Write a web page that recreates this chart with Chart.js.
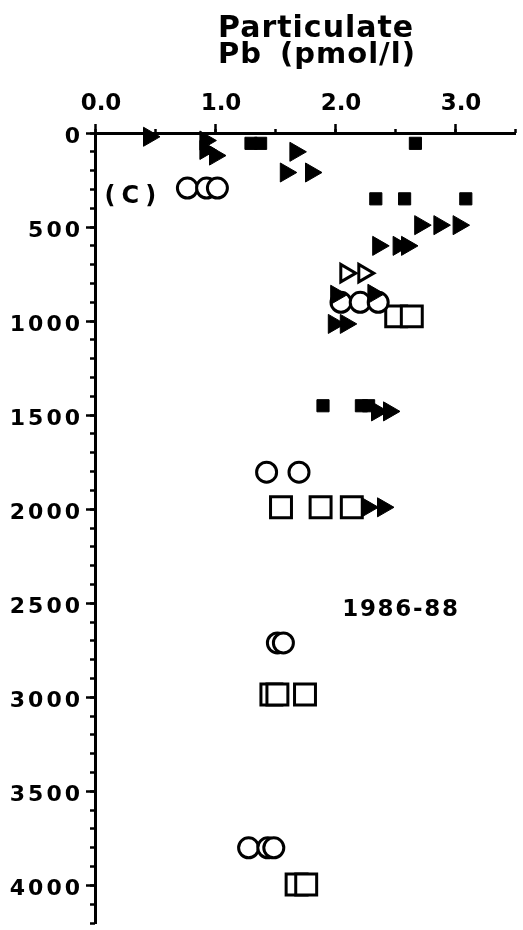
<!DOCTYPE html>
<html>
<head>
<meta charset="utf-8">
<script src="https://cdn.jsdelivr.net/npm/chart.js@4.4.0/dist/chart.umd.min.js"></script>
<style>
  html, body { margin: 0; padding: 0; background: #fff; }
</style>
</head>
<body>
<canvas id="pbChart" width="523" height="930"></canvas>
<script>
// particulate Pb (pmol/l) against depth (m), 1986-88 profiles

// axis ticks
const pbTicks = [0, 1, 2, 3];
const depthTicks = [0, 500, 1000, 1500, 2000, 2500, 3000, 3500, 4000];

// filled triangles
const triPb    = [0.45, 0.92, 0.92, 1.00, 1.67, 1.59, 1.80, 2.71, 2.87, 3.03, 2.36, 2.53, 2.60, 2.01, 2.32, 1.99, 2.09, 2.35, 2.45, 2.27, 2.40];
const triDepth = [20, 40, 90, 120, 100, 210, 210, 490, 490, 490, 600, 600, 600, 860, 855, 1015, 1015, 1480, 1480, 1990, 1990];

// filled squares
const sqPb    = [1.30, 1.38, 2.67, 2.34, 2.58, 3.09, 1.90, 2.22, 2.28];
const sqDepth = [55, 55, 55, 350, 350, 350, 1450, 1450, 1450];

// open circles
const circPb    = [0.77, 0.93, 1.02, 2.05, 2.21, 2.36, 1.43, 1.70, 1.52, 1.57, 1.28, 1.44, 1.49];
const circDepth = [293, 293, 293, 900, 900, 900, 1803, 1803, 2711, 2711, 3800, 3800, 3800];

// open squares
const boxPb    = [2.51, 2.64, 1.55, 1.88, 2.14, 1.47, 1.52, 1.75, 1.68, 1.76];
const boxDepth = [975, 975, 1990, 1990, 1990, 2985, 2985, 2985, 3995, 3995];

// open triangles
const openTriPb    = [2.09, 2.24];
const openTriDepth = [745, 745];

function toPoints(xs, ys) {
    return xs.map((v, i) => ({ x: v, y: ys[i] }));
}

const boldFont = '"DejaVu Sans", Verdana, sans-serif';

// letter spacing for tick labels, per axis
const labelSpacing = { x: '0px', y: '3px' };

const spacedLabels = {
    id: 'spacedLabels',
    afterUpdate(chart) {
        for (const id in labelSpacing) {
            const scale = chart.scales[id];
            if (!scale || scale._spaced) continue;
            const draw = scale.drawLabels;
            scale.drawLabels = function (area) {
                const ctx = this.ctx;
                ctx.save();
                ctx.letterSpacing = labelSpacing[id];
                draw.call(this, area);
                ctx.restore();
            };
            scale._spaced = true;
        }
    }
};

// fixed box sizes, no extra room for overhanging labels
function fixBox(w, h) {
    return s => {
        if (w !== null) s.width = w;
        if (h !== null) s.height = h;
        s.paddingLeft = s.paddingRight = s.paddingTop = s.paddingBottom = 0;
    };
}

// heading and panel notes
const chartText = {
    id: 'chartText',
    afterDraw(chart) {
        const ctx = chart.ctx;
        const xs = chart.scales.x;
        const ys = chart.scales.y;
        ctx.save();
        ctx.fillStyle = '#000';
        ctx.textAlign = 'left';
        ctx.textBaseline = 'alphabetic';

        ctx.font = 'bold 30px ' + boldFont;
        ctx.letterSpacing = '1px';
        ctx.fillText('Particulate', 218, 37);
        ctx.font = 'bold 29px ' + boldFont;
        ctx.fillText('Pb', 218, 63);
        ctx.fillText('(pmol/l)', 280, 63);

        ctx.font = 'bold 24px ' + boldFont;
        ctx.letterSpacing = '6px';
        ctx.fillText('(C)', xs.getPixelForValue(0.08), ys.getPixelForValue(373));

        ctx.font = 'bold 23px ' + boldFont;
        ctx.letterSpacing = '1.7px';
        ctx.fillText('1986-88', xs.getPixelForValue(2.06), ys.getPixelForValue(2567));
        ctx.restore();
    }
};

const ctx = document.getElementById('pbChart').getContext('2d');

new Chart(ctx, {
    type: 'scatter',
    data: {
        datasets: [
            {
                label: 'filled triangles',
                data: toPoints(triPb, triDepth),
                pointStyle: 'triangle',
                rotation: 90,
                pointRadius: 11,
                backgroundColor: '#000',
                borderColor: '#000',
                borderWidth: 1,
                xAxisID: 'x', yAxisID: 'y',
                clip: false
            },
            {
                label: 'filled squares',
                data: toPoints(sqPb, sqDepth),
                pointStyle: 'rect',
                pointRadius: 8.6,
                backgroundColor: '#000',
                borderColor: '#000',
                borderWidth: 1,
                xAxisID: 'x', yAxisID: 'y',
                clip: false
            },
            {
                label: 'open circles',
                data: toPoints(circPb, circDepth),
                pointStyle: 'circle',
                pointRadius: 10,
                backgroundColor: '#fff',
                borderColor: '#000',
                borderWidth: 3,
                xAxisID: 'x', yAxisID: 'y',
                clip: false
            },
            {
                label: 'open squares',
                data: toPoints(boxPb, boxDepth),
                pointStyle: 'rect',
                pointRadius: 14.8,
                backgroundColor: '#fff',
                borderColor: '#000',
                borderWidth: 3,
                xAxisID: 'x', yAxisID: 'y',
                clip: false
            },
            {
                label: 'open triangles',
                data: toPoints(openTriPb, openTriDepth),
                pointStyle: 'triangle',
                rotation: 90,
                pointRadius: 10,
                backgroundColor: '#fff',
                borderColor: '#000',
                borderWidth: 3,
                xAxisID: 'x', yAxisID: 'y',
                clip: false
            }
        ]
    },
    options: {
        responsive: false,
        animation: false,
        events: [],
        layout: {
            autoPadding: false,
            padding: { left: 0, right: 8, top: 0, bottom: 7 }
        },
        plugins: {
            legend: { display: false },
            tooltip: { enabled: false },
            title: { display: false }
        },
        scales: {
            x: {
                type: 'linear',
                position: 'top',
                weight: 1,
                min: 0,
                max: 3.5,
                afterFit: fixBox(null, 133),
                afterBuildTicks: s => { s.ticks = pbTicks.map(v => ({ value: v })); },
                grid: { drawOnChartArea: false, tickLength: 9, tickWidth: 2.5, tickColor: '#000' },
                border: { display: true, color: '#000', width: 3 },
                ticks: {
                    color: '#000',
                    font: { family: boldFont, weight: 'bold', size: 23 },
                    padding: 6,
                    labelOffset: 6,
                    maxRotation: 0,
                    autoSkip: false,
                    callback: v => v.toFixed(1)
                }
            },
            xMinor: {
                type: 'linear',
                axis: 'x',
                position: 'top',
                weight: 0,
                min: 0,
                max: 3.5,
                afterFit: fixBox(null, 0),
                grid: { drawOnChartArea: false, tickLength: 4, tickWidth: 2.5, tickColor: '#000' },
                border: { display: false },
                ticks: { display: false, stepSize: 0.5 }
            },
            y: {
                type: 'linear',
                position: 'left',
                weight: 1,
                reverse: true,
                min: 0,
                max: 4200,
                afterFit: fixBox(95, null),
                afterBuildTicks: s => { s.ticks = depthTicks.map(v => ({ value: v })); },
                grid: { drawOnChartArea: false, tickLength: 9, tickWidth: 2.5, tickColor: '#000' },
                border: { display: true, color: '#000', width: 3 },
                ticks: {
                    color: '#000',
                    font: { family: boldFont, weight: 'bold', size: 22 },
                    padding: 3,
                    labelOffset: 4,
                    autoSkip: false,
                    callback: v => String(v)
                }
            },
            yMinor: {
                type: 'linear',
                axis: 'y',
                position: 'left',
                weight: 0,
                reverse: true,
                min: 0,
                max: 4200,
                afterFit: fixBox(0, null),
                grid: { drawOnChartArea: false, tickLength: 5, tickWidth: 2.5, tickColor: '#000' },
                border: { display: false },
                ticks: { display: false, stepSize: 100 }
            }
        }
    },
    plugins: [spacedLabels, chartText]
});
</script>
</body>
</html>
